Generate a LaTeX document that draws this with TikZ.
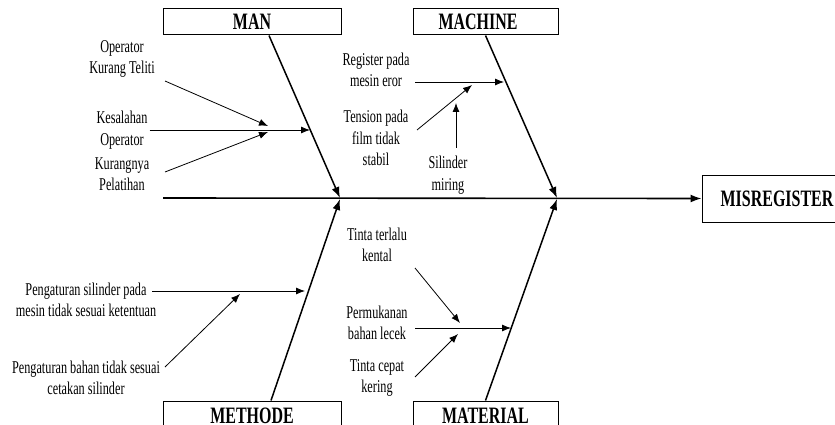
\documentclass[tikz,border=0pt]{standalone}
\usepackage{fontspec}
\setmainfont{Liberation Serif}[FakeStretch=0.68]
\usetikzlibrary{arrows.meta}

\begin{document}
\begin{tikzpicture}[
  x=1pt, y=-1pt,
  catbox/.style={draw, line width=1pt, minimum height=26pt, inner sep=0pt,
                 font=\fontsize{23.5}{23.5}\selectfont\bfseries},
  effect/.style={draw, line width=1pt, minimum width=150pt, minimum height=47pt,
                 inner sep=0pt, font=\fontsize{23.5}{23.5}\selectfont\bfseries},
  cause/.style={align=center, inner sep=2pt, font=\fontsize{18}{21.5}\selectfont},
  spine/.style={-{Latex[length=11pt, width=8pt]}, line width=1.6pt},
  bone/.style={-{Latex[length=11pt, width=8pt]}, line width=1.5pt},
  twig/.style={-{Latex[length=9pt, width=7pt]}, line width=0.8pt}
]
  \useasboundingbox (0,0) rectangle (835,425);

  % Effect and spine
  \node[effect] (mis) at (777,198.5) {MISREGISTER};
  \coordinate (tail) at (163,198);
  \draw[spine] (tail) -- (mis.west);

  % Categories
  \node[catbox, minimum width=178pt] (man) at (252,22) {MAN};
  \node[catbox, minimum width=145pt] (mac) at (485.5,22) {MACHINE\hspace*{15pt}};
  \node[catbox, minimum width=178pt, minimum height=30pt] (met) at (252,416) {METHODE};
  \node[catbox, minimum width=145pt, minimum height=30pt] (mat) at (485.5,416) {MATERIAL};

  % Bones
  \coordinate (jl) at (340,198);
  \coordinate (jr) at (557,198);
  \draw[bone] ([xshift=17pt]man.south) -- (jl);
  \draw[bone] (mac.south) -- (jr);
  \draw[bone] ([xshift=19pt]met.north) -- ([yshift=-1pt]jl);
  \draw[bone] (mat.north) -- ([yshift=-1pt]jr);

  % Man causes
  \node[cause] (opk) at (122,59) {Operator\\Kurang Teliti};
  \node[cause] (kes) at (122,130) {Kesalahan\\Operator};
  \node[cause] (kur) at (122,174) {Kurangnya\\Pelatihan};
  \coordinate (opk-s) at (165,81);  \coordinate (opk-t) at (268,126);
  \coordinate (kes-t) at (310,130);
  \coordinate (kur-s) at (165,172); \coordinate (kur-t) at (268,132);

  % Machine causes
  \node[cause] (reg) at (376,70) {Register pada\\mesin eror};
  \node[cause] (ten) at (376,138) {Tension pada\\film tidak\\stabil};
  \node[cause] (sil) at (448,175) {Silinder\\miring};
  \coordinate (reg-s) at (415,82);  \coordinate (reg-t) at (504,82);
  \coordinate (ten-s) at (417,130); \coordinate (ten-t) at (472,85);
  \coordinate (sil-s) at (456,148); \coordinate (sil-t) at (456,103);

  % Methode causes
  \node[cause] (pes) at (86,300) {Pengaturan silinder pada\\mesin tidak sesuai ketentuan};
  \node[cause] (peb) at (86,378) {Pengaturan bahan tidak sesuai\\cetakan silinder};
  \coordinate (pes-s) at (152,291); \coordinate (pes-t) at (305,291);
  \coordinate (peb-s) at (165,367); \coordinate (peb-t) at (240,294);

  % Material causes
  \node[cause] (tte) at (377,245) {Tinta terlalu\\kental};
  \node[cause] (per) at (377,323) {Permukanan\\bahan lecek};
  \node[cause] (tck) at (377,378) {Tinta cepat\\kering};
  \coordinate (tte-s) at (415,268); \coordinate (tte-t) at (460,323);
  \coordinate (per-s) at (415,328); \coordinate (per-t) at (511,328);
  \coordinate (tck-s) at (415,377); \coordinate (tck-t) at (458,334);

  % Sub-cause arrows
  \draw[twig] (kes.east) -- (kes-t);
  \foreach \c in {opk,kur,reg,ten,sil,pes,peb,tte,per,tck} {
    \draw[twig] (\c-s) -- (\c-t);
  }
\end{tikzpicture}
\end{document}
